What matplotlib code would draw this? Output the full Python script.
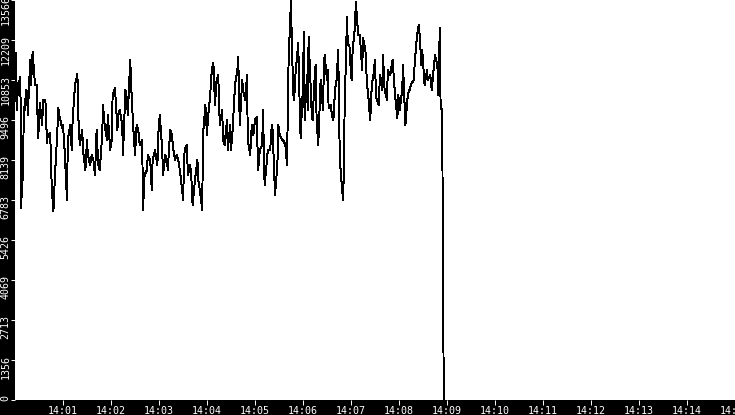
import matplotlib
matplotlib.use("Agg")
import matplotlib.pyplot as plt
import matplotlib.dates as mdates
from matplotlib.transforms import ScaledTranslation
import pandas as pd

# seconds after 14:00:00 and the sampled level at that moment
secs = [1, 2, 3, 4, 6, 7, 8, 9, 10, 11, 12, 14, 15, 16, 19, 20, 22, 25, 27, 28,
        29, 31, 34, 35, 38, 40, 41, 44, 46, 48, 50, 53, 54, 56, 59, 60, 62, 65, 66, 69,
        71, 72, 75, 78, 79, 81, 84, 85, 88, 90, 91, 94, 96, 98, 100, 102, 104, 106, 109, 110,
        112, 115, 116, 119, 121, 122, 125, 128, 129, 131, 134, 135, 138, 140, 141, 144, 146, 148, 150, 152,
        154, 156, 159, 160, 162, 165, 166, 169, 171, 172, 175, 178, 179, 181, 184, 185, 188, 190, 191, 194,
        196, 198, 200, 202, 204, 206, 209, 210, 212, 215, 216, 219, 221, 222, 225, 228, 229, 231, 234, 235,
        238, 240, 241, 244, 246, 248, 250, 252, 254, 256, 259, 260, 262, 265, 266, 269, 270, 272, 275, 278,
        279, 281, 284, 285, 288, 290, 291, 294, 296, 298, 300, 302, 304, 306, 309, 310, 312, 315, 316, 319,
        321, 322, 325, 328, 329, 331, 334, 335, 338, 340, 341, 342, 345, 346, 348, 349, 350, 352, 354, 356,
        357, 360, 361, 362, 365, 366, 367, 370, 371, 372, 375, 376, 377, 379, 380, 382, 385, 386, 387, 390,
        391, 392, 395, 396, 398, 400, 402, 404, 406, 409, 410, 411, 412, 415, 416, 418, 420, 421, 422, 425,
        426, 428, 429, 431, 434, 435, 438, 440, 441, 444, 446, 448, 450, 451, 452, 455, 456, 459, 460, 462,
        465, 466, 469, 471, 472, 475, 478, 479, 481, 484, 485, 488, 490, 491, 494, 496, 498, 500, 502, 504,
        505, 508, 509, 510, 512, 515, 516, 519, 521, 522, 525, 528, 529, 531, 532, 534, 535, 536]

level = [11769, 9837, 10752, 10346, 10956, 10176, 6515, 8820, 7464, 9939, 9837, 10515, 10447, 9667, 11532, 10684, 11803, 10684, 10684, 9837,
         8888, 10074, 9328, 10176, 10176, 8718, 8989, 9057, 7125, 6413, 7633, 9159, 9905, 9566, 9227, 9328, 8481, 6786, 8820, 9328,
         8481, 9498, 10684, 11057, 9667, 8651, 9159, 8481, 7803, 8820, 8312, 7972, 8312, 8142, 7633, 9159, 7972, 7803, 8989, 10006,
         9328, 8820, 9667, 8481, 8820, 10346, 10583, 9159, 9667, 9837, 9328, 8312, 10515, 10176, 9667, 11532, 10176, 9159, 8312, 9328,
         9159, 8651, 8820, 6447, 7633, 7803, 8312, 8142, 7125, 8142, 8481, 7972, 8989, 9667, 8481, 7633, 8312, 8142, 7803, 9159,
         8989, 8481, 8142, 8312, 8142, 7803, 7125, 6786, 8481, 8651, 7633, 7972, 7295, 6616, 7464, 8142, 7464, 7125, 6447, 8989,
         10006, 8989, 9498, 10346, 11193, 11430, 10006, 10854, 11024, 9328, 9837, 8820, 8651, 9498, 8481, 9328, 8481, 9159, 10684, 11193,
         11634, 9328, 10854, 10515, 10176, 11024, 8820, 8312, 9328, 8989, 9498, 9600, 7803, 8481, 8651, 9837, 7295, 8142, 8481, 8481,
         9328, 9159, 6956, 7972, 9328, 8989, 8820, 8820, 8651, 7972, 9837, 11532, 13566, 12108, 10346, 10176, 10854, 11464, 12108, 9837,
         8888, 10684, 12481, 9498, 11024, 9837, 12312, 10346, 9667, 9498, 11193, 11362, 9498, 8651, 9328, 10854, 9837, 11193, 11702, 10854,
         11193, 9905, 10006, 9667, 9498, 10515, 10854, 11871, 8142, 7125, 6786, 7633, 9837, 12990, 12041, 12041, 11024, 10854, 11871, 12651,
         13498, 12718, 12380, 12380, 11193, 12278, 11871, 10684, 10515, 9498, 10684, 11024, 11532, 10515, 10176, 10006, 11024, 10515, 11702, 10515,
         10176, 11193, 11024, 11362, 11532, 10346, 9566, 10346, 9837, 10515, 11362, 9328, 10006, 10346, 10583, 10786, 10786, 11532, 12210, 12651,
         12718, 11362, 11871, 11464, 10684, 11193, 10854, 11024, 10515, 10854, 11702, 11362, 10346, 12617, 9905, 9837, 4069, 0]

ytick_vals = [0, 1356, 2713, 4069, 5426, 6783, 8139, 9496, 10853, 12209, 13566]
xtick_minutes = list(range(1, 16))

start = pd.Timestamp("2024-01-01 14:00:00")
times = start + pd.to_timedelta(secs, unit="s")

fig = plt.figure(figsize=(7.35, 4.15), dpi=100, facecolor="black")
ax = fig.add_axes([15 / 735, 15 / 415, 720 / 735, 400 / 415])
ax.set_facecolor("white")

ax.plot(times, level, color="black", linewidth=0.7, antialiased=False)

ax.set_ylim(0, 13566)
ax.set_xlim(start, start + pd.Timedelta(minutes=15))

ax.set_yticks(ytick_vals)
ax.set_yticklabels([str(v) for v in ytick_vals], rotation=90, va="top",
                   fontsize=7.2, color="white", family="DejaVu Sans Mono")
ax.set_xticks([start + pd.Timedelta(minutes=m) for m in xtick_minutes])
ax.xaxis.set_major_formatter(mdates.DateFormatter("%H:%M"))
for lab in ax.get_xticklabels():
    lab.set_fontsize(7.2)
    lab.set_color("white")
    lab.set_family("DejaVu Sans Mono")

ax.tick_params(axis="x", colors="white", length=3.6, width=0.7, pad=0.5)
ax.tick_params(axis="y", colors="white", length=3.0, width=0.7, pad=0.2)

# shift rotated y labels up a little so their top sits above the tick
shift = ScaledTranslation(0, 5 / 100, fig.dpi_scale_trans)
for lab in ax.get_yticklabels():
    lab.set_transform(lab.get_transform() + shift)

for s in ax.spines.values():
    s.set_visible(False)

fig.savefig("out.png", dpi=100, facecolor="black")
